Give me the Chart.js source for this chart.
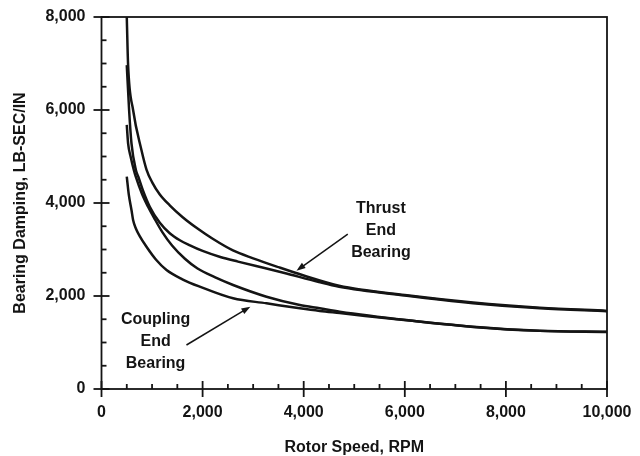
<!DOCTYPE html>
<html>
<head>
<meta charset="utf-8">
<script src="https://cdn.jsdelivr.net/npm/chart.js@4.4.0/dist/chart.umd.min.js"></script>
<style>
    html, body { margin: 0; padding: 0; background: #fff; }
    #chartBox { width: 640px; height: 456px; }
</style>
</head>
<body>
<div id="chartBox"><canvas id="dampingChart"></canvas></div>
<script>
// Thrust end bearing, two curves
const thrustUpperRpm = [500, 526, 625, 790, 890, 1000, 1150, 1350, 1600, 1900, 2200, 2600, 3000, 3500, 4000, 4700, 6000, 7350, 8670, 10000];
const thrustUpperDamping = [8000, 6970, 6000, 5140, 4720, 4450, 4190, 3950, 3700, 3450, 3230, 2980, 2810, 2620, 2440, 2220, 2020, 1860, 1750, 1680];
const thrustLowerRpm = [500, 546, 593, 680, 728, 820, 955, 1150, 1350, 1550, 1750, 2000, 2350, 2700, 3264, 3600, 4300, 4700, 6000, 7350, 8670, 10000];
const thrustLowerDamping = [6966, 6000, 5284, 4710, 4565, 4270, 3920, 3580, 3350, 3200, 3090, 2970, 2840, 2740, 2590, 2500, 2300, 2200, 2010, 1845, 1735, 1672];

// Coupling end bearing, two curves
const couplingUpperRpm = [500, 526, 580, 639, 678, 800, 916, 1050, 1200, 1400, 1650, 1900, 2250, 2603, 3264, 3923, 4318, 4713, 6032, 7350, 8671, 10000];
const couplingUpperDamping = [5680, 5284, 4980, 4710, 4565, 4200, 3930, 3660, 3380, 3080, 2800, 2590, 2400, 2237, 1985, 1806, 1735, 1663, 1484, 1340, 1254, 1232];
const couplingLowerRpm = [500, 540, 593, 625, 680, 750, 890, 1080, 1286, 1600, 1944, 2603, 3264, 3923, 4318, 4713, 6032, 7350, 8671, 10000];
const couplingLowerDamping = [4565, 4180, 3850, 3634, 3450, 3300, 3060, 2780, 2559, 2360, 2201, 1950, 1843, 1735, 1678, 1632, 1476, 1335, 1250, 1228];

const rpmMax = 10000;
const dampingMax = 8000;
const minorStep = 500;
const labelStep = 2000;

// notes: [rpm, damping] of first baseline; arrows: [fromRpm, fromDamping, toRpm, toDamping]
const thrustNoteText = ['Thrust', 'End', 'Bearing'];
const thrustNoteAt = [5528, 3776];
const thrustArrow = [4872, 3333, 3857, 2544];
const couplingNoteText = ['Coupling', 'End', 'Bearing'];
const couplingNoteAt = [1070, 1398];
const couplingArrow = [1681, 946, 2945, 1770];

const inkColor = '#141414';
const fontFamily = '"Liberation Sans", Arial, Helvetica, sans-serif';
const boldFont = { family: fontFamily, size: 16, weight: 'bold' };

function toPoints(rpm, damping) {
    return rpm.map((x, i) => ({ x: x, y: damping[i] }));
}

function curveDataset(label, rpm, damping) {
    return {
        label: label,
        data: toPoints(rpm, damping),
        borderColor: inkColor,
        borderWidth: 2.5,
        pointRadius: 0,
        fill: false,
        cubicInterpolationMode: 'monotone'
    };
}

function formatTick(value) {
    if (value % labelStep !== 0) return '';
    return value.toLocaleString('en-US');
}

// keep the plot box where the reference has it, labels may overhang the padding
function fixAxisBox(axis, size) {
    if (axis.isHorizontal()) {
        axis.height = size;
    } else {
        axis.width = size;
    }
    axis.paddingTop = 0;
    axis.paddingBottom = 0;
    axis.paddingLeft = 0;
    axis.paddingRight = 0;
}

function drawArrow(ctx, x1, y1, x2, y2) {
    const angle = Math.atan2(y2 - y1, x2 - x1);
    const len = 9;
    const half = 3.2;
    ctx.beginPath();
    ctx.moveTo(x1, y1);
    ctx.lineTo(x2 - Math.cos(angle) * len * 0.7, y2 - Math.sin(angle) * len * 0.7);
    ctx.stroke();
    ctx.beginPath();
    ctx.moveTo(x2, y2);
    ctx.lineTo(x2 - Math.cos(angle) * len - Math.sin(angle) * half, y2 - Math.sin(angle) * len + Math.cos(angle) * half);
    ctx.lineTo(x2 - Math.cos(angle) * len + Math.sin(angle) * half, y2 - Math.sin(angle) * len - Math.cos(angle) * half);
    ctx.closePath();
    ctx.fill();
}

const frameAndTicks = {
    id: 'frameAndTicks',
    afterDraw(chart) {
        const { ctx, chartArea, scales } = chart;
        ctx.save();
        ctx.strokeStyle = inkColor;
        ctx.lineWidth = 1.8;
        ctx.strokeRect(chartArea.left, chartArea.top, chartArea.right - chartArea.left, chartArea.bottom - chartArea.top);

        scales.x.ticks.forEach(t => {
            const px = scales.x.getPixelForValue(t.value);
            const major = t.value % labelStep === 0;
            ctx.beginPath();
            ctx.moveTo(px, chartArea.bottom + (major ? 8 : 0));
            ctx.lineTo(px, chartArea.bottom - (major ? 8 : 5));
            ctx.stroke();
        });

        scales.y.ticks.forEach(t => {
            const py = scales.y.getPixelForValue(t.value);
            const major = t.value % labelStep === 0;
            ctx.beginPath();
            ctx.moveTo(chartArea.left - (major ? 8 : 0), py);
            ctx.lineTo(chartArea.left + (major ? 8 : 5), py);
            ctx.stroke();
        });
        ctx.restore();
    }
};

const bearingNotes = {
    id: 'bearingNotes',
    afterDraw(chart) {
        const { ctx, scales } = chart;
        const notes = [
            { text: thrustNoteText, at: thrustNoteAt, arrow: thrustArrow },
            { text: couplingNoteText, at: couplingNoteAt, arrow: couplingArrow }
        ];
        ctx.save();
        ctx.fillStyle = inkColor;
        ctx.strokeStyle = inkColor;
        ctx.lineWidth = 1.5;
        ctx.font = 'bold 16px ' + fontFamily;
        ctx.textAlign = 'center';
        ctx.textBaseline = 'alphabetic';
        notes.forEach(note => {
            const cx = scales.x.getPixelForValue(note.at[0]);
            const cy = scales.y.getPixelForValue(note.at[1]);
            note.text.forEach((line, i) => {
                ctx.fillText(line, cx, cy + i * 21.8);
            });
            drawArrow(ctx,
                scales.x.getPixelForValue(note.arrow[0]), scales.y.getPixelForValue(note.arrow[1]),
                scales.x.getPixelForValue(note.arrow[2]), scales.y.getPixelForValue(note.arrow[3]));
        });
        ctx.restore();
    }
};

function initializeDampingChart() {
    const ctx = document.getElementById('dampingChart').getContext('2d');
    return new Chart(ctx, {
        type: 'line',
        data: {
            datasets: [
                curveDataset('Thrust End Bearing (upper)', thrustUpperRpm, thrustUpperDamping),
                curveDataset('Thrust End Bearing (lower)', thrustLowerRpm, thrustLowerDamping),
                curveDataset('Coupling End Bearing (upper)', couplingUpperRpm, couplingUpperDamping),
                curveDataset('Coupling End Bearing (lower)', couplingLowerRpm, couplingLowerDamping)
            ]
        },
        options: {
            responsive: true,
            maintainAspectRatio: false,
            animation: false,
            devicePixelRatio: 1,
            layout: {
                padding: { top: 17, right: 33, left: 0, bottom: 0 }
            },
            scales: {
                x: {
                    type: 'linear',
                    min: 0,
                    max: rpmMax,
                    afterFit: axis => fixAxisBox(axis, 67),
                    border: { display: false },
                    grid: { display: false, drawTicks: false },
                    ticks: {
                        stepSize: minorStep,
                        autoSkip: false,
                        maxRotation: 0,
                        padding: 14,
                        color: inkColor,
                        font: boldFont,
                        callback: formatTick
                    },
                    title: {
                        display: true,
                        text: 'Rotor Speed, RPM',
                        color: inkColor,
                        font: boldFont,
                        padding: { top: 0, bottom: -1 }
                    }
                },
                y: {
                    type: 'linear',
                    min: 0,
                    max: dampingMax,
                    afterFit: axis => fixAxisBox(axis, 101.5),
                    border: { display: false },
                    grid: { display: false, drawTicks: false },
                    ticks: {
                        stepSize: minorStep,
                        autoSkip: false,
                        padding: 16,
                        color: inkColor,
                        font: boldFont,
                        callback: formatTick
                    },
                    title: {
                        display: true,
                        text: 'Bearing Damping, LB-SEC/IN',
                        color: inkColor,
                        font: boldFont,
                        padding: { top: 11, bottom: 0 }
                    }
                }
            },
            plugins: {
                legend: { display: false },
                tooltip: { enabled: false }
            }
        },
        plugins: [frameAndTicks, bearingNotes]
    });
}

document.addEventListener('DOMContentLoaded', () => {
    initializeDampingChart();
});
</script>
</body>
</html>
